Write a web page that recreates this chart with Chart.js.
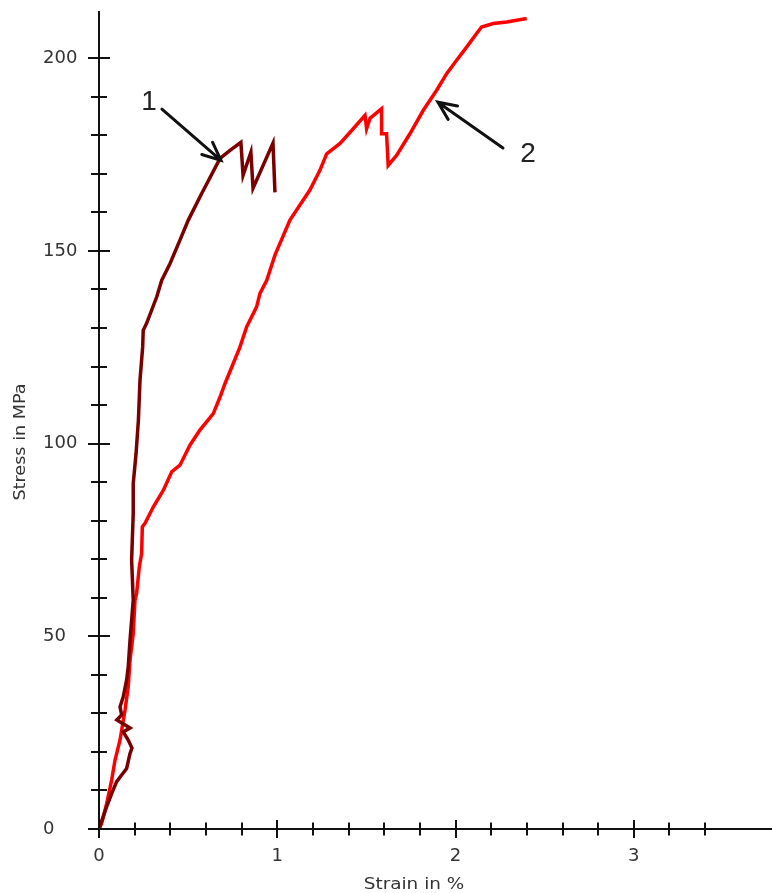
<!DOCTYPE html>
<html>
<head>
<meta charset="utf-8">
<title>Stress-strain curves</title>
<script src="https://cdn.jsdelivr.net/npm/chart.js@4.4.1/dist/chart.umd.min.js"></script>
<style>
  html, body { margin: 0; padding: 0; background: #fff; }
  #wrap { width: 772px; height: 893px; }
</style>
</head>
<body>
<div id="wrap"><canvas id="stressChart" width="772" height="893"></canvas></div>
<script>
// curve 1 (dark red), strain in %, stress in MPa
const strain1 = [0, 0.043, 0.071, 0.099, 0.127, 0.155, 0.174, 0.185, 0.164, 0.136, 0.174, 0.1, 0.127, 0.118,
  0.136, 0.155, 0.164, 0.174, 0.183, 0.192, 0.183, 0.192, 0.192, 0.208, 0.221, 0.23, 0.245, 0.248, 0.267,
  0.324, 0.352, 0.398, 0.454, 0.501, 0.576, 0.679, 0.735, 0.796, 0.808, 0.852, 0.864, 0.976, 0.987];
const stress1 = [0, 5.8, 9.2, 12.3, 14, 15.7, 19.6, 21, 23.1, 25.2, 26.2, 28.3, 29.6, 31.7,
  34.3, 38.7, 42.1, 49, 54.2, 59.4, 69.8, 81.9, 89.6, 97.5, 106.1, 116.5, 125.1, 129.4, 131.2,
  138.1, 142.4, 146.7, 152.8, 158, 164.9, 174, 176.1, 178.2, 169.6, 175.6, 166.3, 178, 165.2];

// curve 2 (red)
const strain2 = [0, 0.015, 0.043, 0.071, 0.09, 0.118, 0.146, 0.164, 0.174, 0.192, 0.202, 0.211, 0.226, 0.239,
  0.243, 0.258, 0.305, 0.361, 0.408, 0.454, 0.51, 0.566, 0.641, 0.679, 0.707, 0.753, 0.791, 0.828, 0.884,
  0.903, 0.941, 0.987, 1.071, 1.127, 1.183, 1.239, 1.277, 1.352, 1.426, 1.492, 1.501, 1.52, 1.585, 1.585,
  1.613, 1.622, 1.669, 1.744, 1.819, 1.894, 1.95, 2.006, 2.062, 2.118, 2.146, 2.211, 2.287, 2.399];
const stress2 = [0, 1.5, 6.6, 12.7, 17.9, 23.1, 30.9, 36.9, 43.8, 50.7, 59.4, 61.1, 68, 71.5,
  78.4, 79.3, 83.6, 87.9, 92.7, 94.4, 99.6, 103.5, 107.8, 112.1, 115.6, 120.8, 125.1, 130.3, 135.5,
  139, 142.4, 148.9, 158, 161.9, 165.8, 170.9, 175.2, 177.9, 181.7, 185.2, 181.7, 184.4, 186.9, 180.4,
  180.4, 172.2, 174.8, 180.4, 186.5, 191.7, 196, 199.5, 202.9, 206.4, 208.1, 209, 209.4, 210.3];

// curve labels with arrows (data units)
const curveLabels = ["1", "2"];
const labelAt = [[0.28, 188.6], [2.406, 175]];
const arrowTail = [[0.353, 186.8], [2.266, 176.7]];
const arrowHead = [[0.684, 173.5], [1.901, 188.6]];

const pts = (xs, ys) => xs.map((v, i) => ({ x: v, y: ys[i] }));

const crossTicks = {
  id: "crossTicks",
  afterDraw(chart) {
    const { ctx, scales: { x, y } } = chart;
    const x0 = x.getPixelForValue(0);
    const y0 = y.getPixelForValue(0);
    ctx.save();
    ctx.strokeStyle = "#111";
    ctx.lineWidth = 2;
    ctx.beginPath();
    x.ticks.forEach(t => {
      const k = t.value / 0.2;
      if (Math.abs(k - Math.round(k)) > 1e-6) return;
      const major = Math.abs(t.value - Math.round(t.value)) < 1e-6;
      const px = Math.round(x.getPixelForValue(t.value));
      const len = major ? 9 : 6.5;
      ctx.moveTo(px, y0 - len);
      ctx.lineTo(px, y0 + len);
    });
    y.ticks.forEach(t => {
      if (t.value % 10 !== 0) return;
      const major = t.value % 50 === 0;
      const py = Math.round(y.getPixelForValue(t.value));
      const len = major ? 11 : 8;
      ctx.moveTo(x0 - len, py);
      ctx.lineTo(x0 + len, py);
    });
    ctx.stroke();

    // axis titles (slightly widened like the original bitmap font)
    ctx.fillStyle = "#333";
    ctx.font = "16px 'DejaVu Sans'";
    ctx.textAlign = "center";
    ctx.textBaseline = "middle";
    ctx.save();
    ctx.translate(414, 885);
    ctx.scale(1.15, 1);
    ctx.fillText("Strain in %", 0, 0);
    ctx.restore();
    ctx.save();
    ctx.translate(21, 442);
    ctx.rotate(-Math.PI / 2);
    ctx.scale(1.1, 1);
    ctx.fillText("Stress in MPa", 0, 0);
    ctx.restore();

    // curve numbers and arrows
    ctx.fillStyle = "#222";
    ctx.font = "28px 'Liberation Sans'";
    curveLabels.forEach((txt, i) => {
      ctx.fillText(txt, x.getPixelForValue(labelAt[i][0]), y.getPixelForValue(labelAt[i][1]));
      const ax = x.getPixelForValue(arrowTail[i][0]), ay = y.getPixelForValue(arrowTail[i][1]);
      const bx = x.getPixelForValue(arrowHead[i][0]), by = y.getPixelForValue(arrowHead[i][1]);
      const ang = Math.atan2(by - ay, bx - ax);
      ctx.strokeStyle = "#111";
      ctx.lineWidth = 3;
      ctx.lineCap = "round";
      ctx.beginPath();
      ctx.moveTo(ax, ay);
      ctx.lineTo(bx, by);
      ctx.moveTo(bx - 20 * Math.cos(ang - 0.42), by - 20 * Math.sin(ang - 0.42));
      ctx.lineTo(bx, by);
      ctx.lineTo(bx - 20 * Math.cos(ang + 0.42), by - 20 * Math.sin(ang + 0.42));
      ctx.stroke();
    });
    ctx.restore();
  }
};

new Chart(document.getElementById("stressChart"), {
  type: "scatter",
  data: {
    datasets: [
      {
        label: "1",
        data: pts(strain1, stress1),
        showLine: true,
        borderColor: "#7a0000",
        borderWidth: 3.5,
        pointRadius: 0,
        tension: 0
      },
      {
        label: "2",
        data: pts(strain2, stress2),
        showLine: true,
        borderColor: "#ff0000",
        borderWidth: 3.5,
        pointRadius: 0,
        tension: 0
      }
    ]
  },
  options: {
    responsive: false,
    animation: false,
    layout: { padding: { left: 43, top: 12, right: 0, bottom: 0 } },
    plugins: { legend: { display: false }, tooltip: { enabled: false } },
    scales: {
      x: {
        type: "linear",
        min: 0,
        max: 3.775,
        grid: { display: false, drawTicks: false },
        border: { display: true, color: "#111", width: 2 },
        ticks: {
          stepSize: 0.2,
          autoSkip: false,
          maxRotation: 0,
          padding: 17,
          color: "#333",
          font: { family: "DejaVu Sans", size: 18 },
          callback: v => Math.abs(v - Math.round(v)) < 1e-6 ? String(Math.round(v)) : ""
        },
        afterFit: s => { s.height = 64; s.paddingLeft = 0; s.paddingRight = 0; }
      },
      y: {
        type: "linear",
        min: 0,
        max: 212,
        grid: { display: false, drawTicks: false },
        border: { display: true, color: "#111", width: 2 },
        ticks: {
          stepSize: 10,
          autoSkip: false,
          crossAlign: "far",
          color: "#333",
          font: { family: "DejaVu Sans", size: 18 },
          callback: v => v % 50 === 0 ? String(v) : ""
        },
        afterFit: s => { s.width = 56; s.paddingTop = 0; s.paddingBottom = 0; }
      }
    }
  },
  plugins: [crossTicks]
});
</script>
</body>
</html>
